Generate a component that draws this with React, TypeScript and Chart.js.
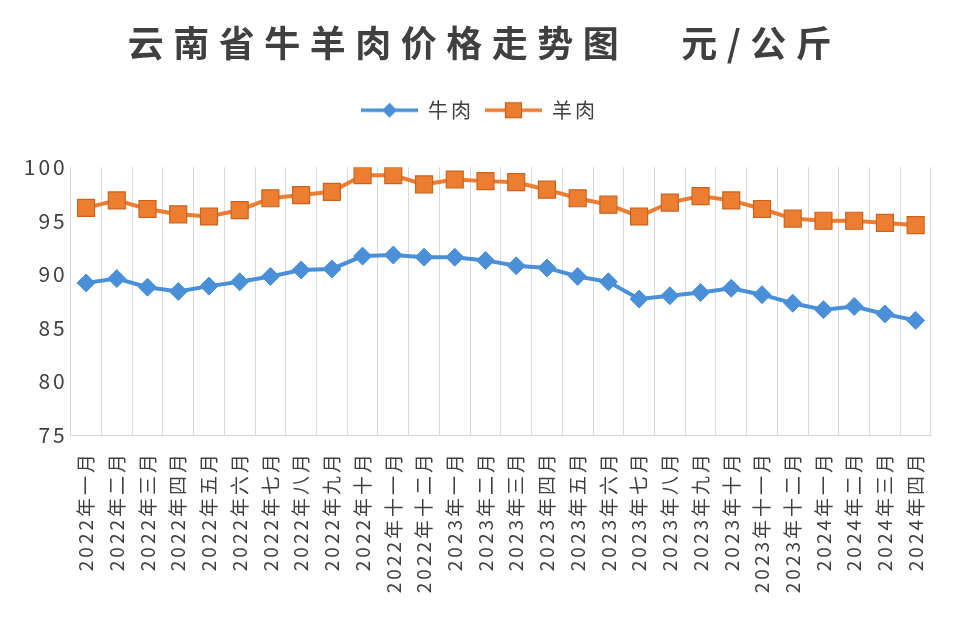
import React, { useEffect, useRef } from 'react';
import { Chart, registerables } from 'chart.js';

Chart.register(...registerables);

const monthNames = ['一月', '二月', '三月', '四月', '五月', '六月', '七月', '八月', '九月', '十月', '十一月', '十二月'];
const categories: string[] = [
  ...monthNames.map((m) => '2022年' + m),
  ...monthNames.map((m) => '2023年' + m),
  ...monthNames.slice(0, 4).map((m) => '2024年' + m),
];

const beefPrices = [89.2, 89.6, 88.8, 88.4, 88.9, 89.3, 89.8, 90.4, 90.5, 91.7, 91.8, 91.6, 91.6, 91.3, 90.8, 90.6, 89.8, 89.3, 87.7, 88.0, 88.3, 88.7, 88.1, 87.3, 86.7, 87.0, 86.3, 85.7];
const lambPrices = [96.2, 96.9, 96.1, 95.6, 95.4, 96.0, 97.1, 97.4, 97.7, 99.25, 99.25, 98.4, 98.85, 98.7, 98.6, 97.9, 97.1, 96.5, 95.4, 96.7, 97.3, 96.9, 96.1, 95.2, 95.0, 95.0, 94.8, 94.6];
const seriesNames = ['牛肉', '羊肉'];
const yMin = 75;
const yMax = 100;
const yStep = 5;
const titleText = '云南省牛羊肉价格走势图   元/公斤';

const BLUE = '#4a90d9';
const ORANGE = '#ed7d31';
const ORANGE_EDGE = '#c9641f';
const TEXT = '#404040';
const FONT = "'Noto Sans CJK SC', 'Noto Sans', sans-serif";

function makeIcon(kind: 'diamond' | 'square'): HTMLCanvasElement {
  const c = document.createElement('canvas');
  c.width = 57;
  c.height = 22;
  const g = c.getContext('2d') as CanvasRenderingContext2D;
  const color = kind === 'diamond' ? BLUE : ORANGE;
  g.strokeStyle = color;
  g.lineWidth = 3.5;
  g.beginPath();
  g.moveTo(0, 11);
  g.lineTo(57, 11);
  g.stroke();
  g.fillStyle = color;
  if (kind === 'diamond') {
    g.beginPath();
    g.moveTo(28.5, 3.5);
    g.lineTo(36, 11);
    g.lineTo(28.5, 18.5);
    g.lineTo(21, 11);
    g.closePath();
    g.fill();
  } else {
    g.strokeStyle = ORANGE_EDGE;
    g.lineWidth = 1.2;
    g.fillRect(20.5, 3.5, 16, 15);
    g.strokeRect(20.5, 3.5, 16, 15);
  }
  return c;
}

const spacingPlugin = {
  id: 'spacingPlugin',
  beforeLayout(chart: any) {
    chart.ctx.letterSpacing = '3px';
    const lg = chart.legend;
    if (lg && !lg.__patched) {
      lg.__patched = true;
      const origFit = lg.fit.bind(lg);
      lg.fit = function () {
        origFit();
        this.height = 78;
      };
      const origDraw = lg.draw.bind(lg);
      lg.draw = function () {
        const ctx = chart.ctx;
        ctx.save();
        ctx.translate(14, 0);
        origDraw();
        ctx.restore();
      };
    }
    const tb = chart.titleBlock;
    if (tb && !tb.__patched) {
      tb.__patched = true;
      const orig = tb.draw.bind(tb);
      tb.draw = function () {
        const ctx = chart.ctx;
        ctx.save();
        ctx.translate(19, 0);
        ctx.letterSpacing = '9.5px';
        orig();
        ctx.restore();
      };
    }
  },
  beforeDraw(chart: any) {
    chart.ctx.letterSpacing = '3px';
  },
};

export default function App() {
  const ref = useRef<HTMLCanvasElement | null>(null);

  useEffect(() => {
    document.body.style.margin = '0';
    document.body.style.overflow = 'hidden';
    const canvas = ref.current;
    if (!canvas) return;
    const icons = [makeIcon('diamond'), makeIcon('square')];
    const chart = new Chart(canvas, {
      type: 'line',
      data: {
        labels: categories,
        datasets: [
          {
            label: seriesNames[0],
            data: beefPrices,
            borderColor: BLUE,
            backgroundColor: BLUE,
            borderWidth: 4,
            tension: 0,
            pointStyle: 'rectRot',
            pointRadius: 9,
            pointBackgroundColor: BLUE,
            pointBorderColor: BLUE,
            pointBorderWidth: 1,
          },
          {
            label: seriesNames[1],
            data: lambPrices,
            borderColor: ORANGE,
            backgroundColor: ORANGE,
            borderWidth: 4,
            tension: 0,
            pointStyle: 'rect',
            pointRadius: 12,
            pointBackgroundColor: ORANGE,
            pointBorderColor: ORANGE_EDGE,
            pointBorderWidth: 1.2,
          },
        ],
      },
      options: {
        responsive: false,
        animation: false,
        devicePixelRatio: 1,
        layout: { padding: { left: 0, right: 25, top: 0, bottom: 0 } },
        font: { family: FONT },
        plugins: {
          title: {
            display: true,
            text: titleText,
            color: TEXT,
            font: { family: FONT, size: 36, weight: 'bold' },
            padding: { top: 22, bottom: 24 },
          },
          legend: {
            display: true,
            position: 'top',
            labels: {
              color: TEXT,
              font: { family: FONT, size: 20 },
              usePointStyle: true,
              pointStyleWidth: 57,
              padding: 11,
              generateLabels: (c: any) =>
                (Chart.defaults.plugins.legend.labels.generateLabels as any)(c).map((l: any, i: number) => ({
                  ...l,
                  pointStyle: icons[i],
                })),
            },
          },
          tooltip: { enabled: false },
        },
        scales: {
          x: {
            type: 'category',
            offset: true,
            grid: { display: true, offset: true, color: '#d9d9d9', lineWidth: 1, drawTicks: false },
            border: { display: true, color: '#d9d9d9' },
            ticks: {
              autoSkip: false,
              maxRotation: 90,
              minRotation: 90,
              padding: 16,
              color: TEXT,
              font: { family: FONT, size: 19 },
            },
            afterFit: (s: any) => {
              s.height = 191;
            },
          },
          y: {
            min: yMin,
            max: yMax,
            grid: { display: false, drawTicks: false },
            border: { display: false },
            ticks: {
              stepSize: yStep,
              padding: 3,
              color: TEXT,
              font: { family: FONT, size: 21 },
            },
            afterFit: (s: any) => {
              s.width = 70.7;
            },
          },
        },
      },
      plugins: [spacingPlugin],
    } as any);
    return () => chart.destroy();
  }, []);

  return (
    <div style={{ width: 956, height: 626, background: '#fff' }}>
      <canvas ref={ref} width={956} height={626} style={{ display: 'block' }} />
    </div>
  );
}
